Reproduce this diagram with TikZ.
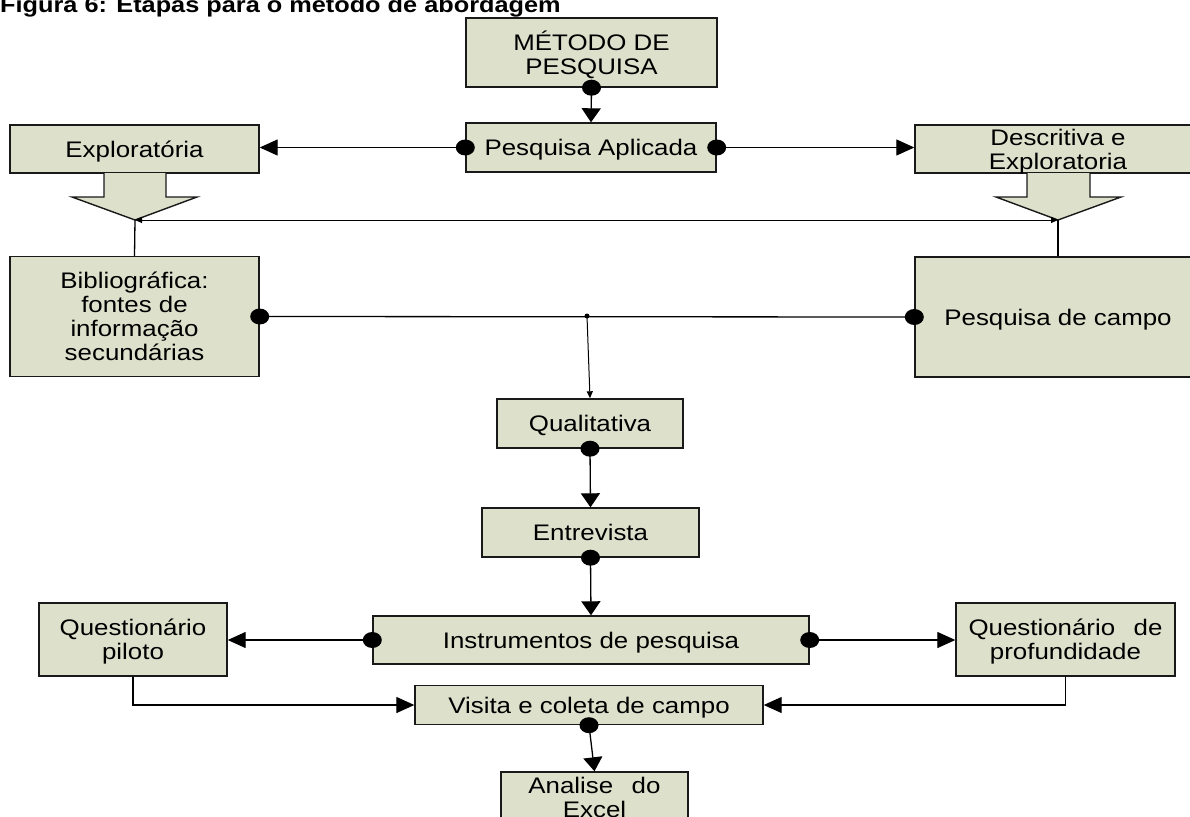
\documentclass[tikz,border=0pt]{standalone}
\usepackage{fontspec}
\setmainfont{Liberation Sans}[FakeStretch=1.15]
\usetikzlibrary{arrows.meta}
\definecolor{boxfill}{RGB}{221,224,203}
\definecolor{edge}{RGB}{25,25,25}
\begin{document}
\begin{tikzpicture}[x=1pt,y=-1pt,
  box/.style={draw=edge, fill=boxfill, line width=1.4pt, inner sep=0pt, align=center,
    text depth=0pt, font=\fontsize{22.5}{24}\selectfont},
  blk/.style={draw=edge, fill=boxfill, line width=1.4pt, line join=miter},
  conn/.style={line width=1.3pt, draw=black},
  harr/.style={conn, -{Triangle[length=18pt,width=16pt]}},
  varr/.style={conn, -{Triangle[length=14pt,width=19pt]}},
  sarr/.style={conn, line width=1pt, -{Triangle[length=7pt,width=6pt]}},
  sdarr/.style={conn, line width=1pt, {Triangle[length=7pt,width=6pt]}-{Triangle[length=7pt,width=6pt]}},
  dot/.style={fill=black},
]
\useasboundingbox (0,0) rectangle (1190,816);
\fill[white] (0,0) rectangle (1190,816);

\node[anchor=base west, inner sep=0pt, font=\fontsize{22}{24}\selectfont\bfseries] (title) at (0,13)
  {Figura 6: Etapas para o método de abordagem};

% nodes
\node[box, minimum width=251pt, minimum height=69pt] (metodo) at (591.5,52.5) {MÉTODO DE\\PESQUISA};
\node[box, minimum width=250pt, minimum height=49pt] (aplicada) at (591,147.5) {Pesquisa Aplicada};
\node[box, minimum width=249pt, minimum height=48pt] (explor) at (134.5,149) {Exploratória};
\node[box, minimum width=286pt, minimum height=48pt] (descr) at (1058,149) {Descritiva e\\Exploratoria};
\node[box, minimum width=249pt, minimum height=120pt] (bib) at (134.5,316.5) {Bibliográfica:\\fontes de\\informação\\secundárias};
\node[box, minimum width=286pt, minimum height=120pt] (campo) at (1058,317) {Pesquisa de campo};
\node[box, minimum width=186pt, minimum height=49pt] (qual) at (590,423.5) {Qualitativa};
\node[box, minimum width=217pt, minimum height=49pt] (entre) at (590.5,532.5) {Entrevista};
\node[box, minimum width=436pt, minimum height=48pt] (instr) at (591,640) {Instrumentos de pesquisa};
\node[box, minimum width=188pt, minimum height=73pt] (qpil) at (133,639.5) {Questionário\\piloto};
\node[box, minimum width=219pt, minimum height=73pt] (qprof) at (1065.5,639.5) {Questionário\hspace{0.5em} de\\profundidade};
\node[box, minimum width=348pt, minimum height=39pt] (visita) at (589,705) {Visita e coleta de campo};
\node[box, minimum width=187pt, minimum height=50pt] (analise) at (594.5,797) {Analise\hspace{0.5em} do\\Excel};

% block arrows
\draw[blk] (104,173) -- (104,197) -- (72,197) -- (135,220) -- (197,197) -- (166,197) -- (166,173);
\draw[blk] (1027,173) -- (1027,197) -- (996,197) -- (1058,220) -- (1121,197) -- (1090,197) -- (1090,173);
\coordinate (tipL) at (135,220);
\coordinate (tipR) at (1058,220);

% connectors
\draw[varr] (metodo.south) -- (aplicada.north);
\fill[dot] (metodo.south) ellipse [x radius=9.5, y radius=8];

\draw[harr] (aplicada.west) -- (aplicada.west -| explor.east);
\draw[harr] (aplicada.east) -- (aplicada.east -| descr.west);
\fill[dot] (aplicada.west) ellipse [x radius=9.5, y radius=8];
\fill[dot] (aplicada.east) ellipse [x radius=9.5, y radius=8];

\draw[sdarr] (tipL) -- (tipR);
\draw[conn] (tipL) -- (bib.north);
\draw[conn] (tipR) -- (campo.north);

\coordinate (jn) at (587,316);
\draw[conn] (bib.east) -- (campo.west);
\fill[dot] (bib.east) ellipse [x radius=9.5, y radius=8];
\fill[dot] (campo.west) ellipse [x radius=9.5, y radius=8];
\fill[dot] (jn) circle (2.5);
\draw[sarr] (jn) -- (qual.north);

\draw[varr] (qual.south) -- (entre.north);
\fill[dot] (qual.south) ellipse [x radius=9.5, y radius=8];
\draw[varr] (entre.south) -- (instr.north);
\fill[dot] (entre.south) ellipse [x radius=9.5, y radius=8];

\draw[harr] (instr.west) -- (instr.west -| qpil.east);
\draw[harr] (instr.east) -- (instr.east -| qprof.west);
\fill[dot] (instr.west) ellipse [x radius=9.5, y radius=8];
\fill[dot] (instr.east) ellipse [x radius=9.5, y radius=8];

\draw[harr] (qpil.south) |- (visita.west);
\draw[harr] (qprof.south) |- (visita.east);

\draw[varr] (visita.south) -- (analise.north);
\fill[dot] (visita.south) ellipse [x radius=9.5, y radius=8];
\end{tikzpicture}
\end{document}
